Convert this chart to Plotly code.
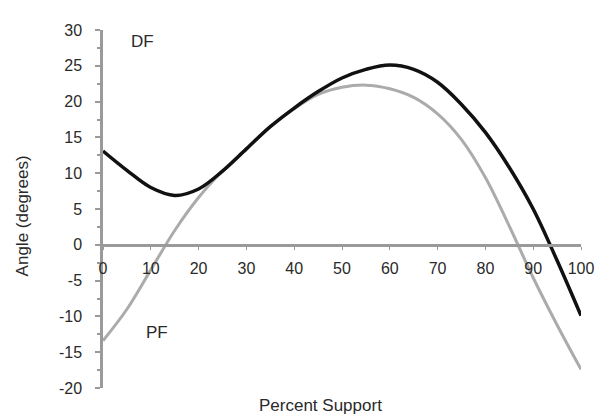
import plotly.graph_objects as go

support = [0, 5, 10, 15, 20, 25, 30, 35, 40, 45, 50, 55, 60, 65, 70, 75, 80, 85, 90, 95, 100]
df_angle = [13.1, 10.4, 8.0, 6.9, 7.8, 10.3, 13.4, 16.5, 19.1, 21.4, 23.3, 24.5, 25.1, 24.5, 22.7, 19.6, 15.7, 10.8, 5.0, -2.2, -9.9]
pf_angle = [-13.4, -9.0, -3.5, 2.0, 6.6, 10.3, 13.4, 16.5, 19.0, 21.0, 22.0, 22.3, 21.8, 20.6, 18.3, 14.7, 9.4, 2.6, -4.6, -11.2, -17.4]
x_ticks = [0, 10, 20, 30, 40, 50, 60, 70, 80, 90, 100]
y_ticks = [-20, -15, -10, -5, 0, 5, 10, 15, 20, 25, 30]

FONT = "Liberation Sans, Arial, sans-serif"
TXT = "#2a2a2a"
AX = "#9a9a9a"

fig = go.Figure()
fig.add_trace(go.Scatter(x=support, y=pf_angle, mode="lines",
                         line=dict(color="#ababab", width=3, shape="spline"),
                         showlegend=False))
fig.add_trace(go.Scatter(x=support, y=df_angle, mode="lines",
                         line=dict(color="#111111", width=3.5, shape="spline"),
                         showlegend=False))

fig.update_layout(
    width=596, height=414,
    margin=dict(l=103, r=15, t=30, b=26),
    paper_bgcolor="white", plot_bgcolor="white",
    font=dict(family=FONT, size=17, color=TXT),
    xaxis=dict(range=[0, 100], tickvals=x_ticks, ticktext=[str(v) for v in x_ticks],
               showgrid=False, zeroline=False, showline=True, linecolor=AX, linewidth=2.5,
               anchor="free", position=0.4, ticks="outside", ticklen=3, tickcolor=AX,
               tickwidth=1, ticklabelstandoff=5, automargin=False,
               tickfont=dict(family=FONT, size=16, color=TXT)),
    yaxis=dict(range=[-20, 30], tickvals=y_ticks, ticktext=[str(v) for v in y_ticks],
               showgrid=False, zeroline=False, showline=True, linecolor=AX, linewidth=2.5,
               ticks="outside", ticklen=5, tickcolor=AX, tickwidth=1.5,
               ticklabelstandoff=10, automargin=False,
               minor=dict(dtick=2.5, ticks="outside", ticklen=3, tickcolor=AX),
               tickfont=dict(family=FONT, size=16, color=TXT)),
    annotations=[
        dict(text="Percent Support", x=0.454, y=-0.0475, xref="paper", yref="paper",
             showarrow=False, xanchor="center", yanchor="middle",
             font=dict(family=FONT, size=17, color=TXT)),
        dict(text="Angle (degrees)", x=-0.169, y=0.48, xref="paper", yref="paper",
             showarrow=False, xanchor="center", yanchor="middle", textangle=-90,
             font=dict(family=FONT, size=17, color=TXT)),
        dict(text="DF", x=8.2, y=28.4, xref="x", yref="y", showarrow=False,
             xanchor="center", yanchor="middle", font=dict(family=FONT, size=17, color=TXT)),
        dict(text="PF", x=11.3, y=-12.2, xref="x", yref="y", showarrow=False,
             xanchor="center", yanchor="middle", font=dict(family=FONT, size=17, color=TXT)),
    ],
)

fig.write_html("out.html")
